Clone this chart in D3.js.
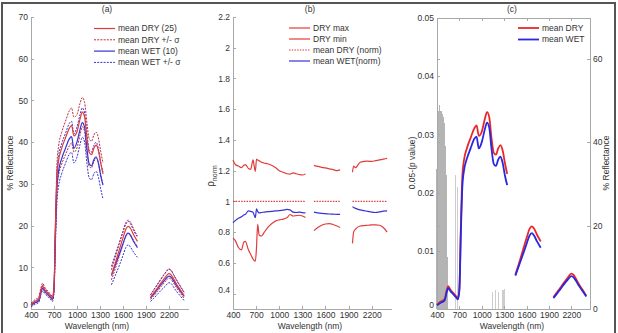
<!DOCTYPE html>
<html>
<head>
<meta charset="utf-8">
<script src="https://cdn.jsdelivr.net/npm/d3@7"></script>
<style>
    body { margin: 0; background: #fff; }
    svg { font-family: "Liberation Sans", Arial, sans-serif; }
    .axis path, .axis line { stroke: #a8a8a8; shape-rendering: crispEdges; }
    .axis text { fill: #333; font-size: 8.5px; }
    .lbl { fill: #333; font-size: 8.5px; }
</style>
</head>
<body>
<div id="chart"></div>
<script>

// wavelengths (nm) for the reflectance spectra, null = water band gap
let wl = [400, 450, 500, 530, 550, 580, 620, 660, 680, 700, 720, 740, 760, 800, 850, 900, 930, 960, 1000, 1040,
    1070, 1100, 1130, 1160, 1190, 1220, 1250, 1280, 1310, 1340, 1400,
    1450, 1500, 1550, 1600, 1640, 1670, 1700, 1740, 1790, 1870,
    1960, 2000, 2050, 2100, 2150, 2200, 2230, 2260, 2300, 2350, 2400];

let dryMean = [1.0, 1.8, 2.3, 4.5, 5.5, 4.6, 3.8, 3.0, 2.6, 5.0, 20.0, 32.0, 35.5, 38.5, 41.0, 43.3, 44.0, 41.5, 42.5, 45.5,
    47.2, 46.0, 41.0, 37.5, 37.0, 38.5, 39.3, 38.0, 35.0, 32.4, null,
    8.2, 11.0, 14.0, 17.0, 19.2, 19.8, 19.3, 17.8, 16.2, null,
    2.8, 3.8, 5.0, 6.3, 7.5, 8.5, 8.2, 7.3, 6.0, 4.6, 3.2];
let dryPlus = [1.4, 2.2, 2.8, 5.1, 6.2, 5.2, 4.3, 3.4, 3.0, 5.6, 22.0, 35.0, 39.0, 42.3, 45.0, 47.5, 48.2, 46.0, 46.6, 49.3,
    50.7, 49.5, 44.6, 40.8, 40.2, 41.7, 42.4, 41.0, 37.8, 35.0, null,
    9.4, 12.4, 15.5, 18.6, 20.8, 21.3, 20.8, 19.2, 17.5, null,
    3.3, 4.5, 5.8, 7.2, 8.5, 9.6, 9.3, 8.3, 6.9, 5.4, 3.9];
let dryMinus = [0.6, 1.4, 1.8, 3.9, 4.8, 4.0, 3.3, 2.6, 2.2, 4.4, 18.0, 29.0, 32.0, 34.7, 37.0, 39.1, 39.8, 37.6, 38.6, 41.7,
    43.7, 42.5, 37.4, 34.2, 33.8, 35.3, 36.2, 35.0, 32.2, 29.8, null,
    7.0, 9.6, 12.5, 15.4, 17.6, 18.3, 17.8, 16.4, 14.9, null,
    2.3, 3.1, 4.2, 5.4, 6.5, 7.4, 7.1, 6.3, 5.1, 3.8, 2.5];
let wetMean = [0.9, 1.5, 2.0, 4.0, 5.0, 4.3, 3.5, 2.7, 2.3, 4.5, 18.5, 29.5, 33.0, 36.0, 38.5, 40.8, 41.3, 38.5, 40.0, 43.0,
    44.7, 43.5, 38.5, 34.8, 34.3, 35.8, 36.5, 35.0, 32.0, 29.7, null,
    8.0, 10.5, 13.0, 15.6, 17.6, 18.2, 17.6, 16.2, 14.7, null,
    2.6, 3.5, 4.7, 5.9, 7.0, 7.9, 7.6, 6.8, 5.6, 4.3, 3.0];
let wetPlus = [1.3, 1.9, 2.5, 4.6, 5.7, 4.9, 4.0, 3.2, 2.8, 5.1, 21.0, 33.0, 36.6, 39.6, 42.1, 44.5, 45.0, 42.0, 43.6, 46.6,
    48.2, 47.0, 42.0, 38.2, 37.6, 39.2, 40.0, 38.4, 35.2, 32.8, null,
    10.2, 13.0, 15.7, 18.4, 20.4, 21.0, 20.4, 18.8, 17.2, null,
    3.4, 4.5, 5.9, 7.3, 8.6, 9.5, 9.2, 8.3, 7.0, 5.5, 4.0];
let wetMinus = [0.5, 1.1, 1.5, 3.4, 4.3, 3.7, 3.0, 2.2, 1.8, 3.9, 16.0, 26.0, 29.4, 32.4, 34.9, 37.1, 37.6, 35.0, 36.4, 39.4,
    41.2, 40.0, 35.0, 31.4, 31.0, 32.4, 33.0, 31.6, 28.8, 26.4, null,
    5.8, 8.0, 10.3, 12.8, 14.8, 15.4, 14.8, 13.6, 12.4, null,
    1.8, 2.5, 3.5, 4.5, 5.4, 6.3, 6.1, 5.3, 4.2, 3.1, 2.0];

// panel (b): normalised spectra
let bWl = [400, 430, 470, 510, 540, 560, 600, 630, 660, 675, 690, 705, 720, 740, 770, 800, 850, 900, 950, 1000,
    1050, 1100, 1140, 1180, 1220, 1260, 1300, 1340, 1400,
    1450, 1500, 1550, 1600, 1650, 1700, 1750, 1790, 1870,
    1950, 1965, 1990, 2050, 2100, 2150, 2200, 2250, 2300, 2350, 2400];
let dryMax = [1.27, 1.24, 1.23, 1.22, 1.235, 1.24, 1.215, 1.21, 1.27, 1.23, 1.195, 1.275, 1.27, 1.265, 1.255, 1.25, 1.245, 1.235, 1.22, 1.2,
    1.19, 1.18, 1.178, 1.186, 1.18, 1.175, 1.172, 1.178, null,
    1.235, 1.228, 1.222, 1.218, 1.212, 1.207, 1.2, 1.205, null,
    1.19, 1.23, 1.22, 1.255, 1.26, 1.262, 1.26, 1.265, 1.27, 1.275, 1.28];
let dryMin = [0.76, 0.745, 0.70, 0.685, 0.735, 0.74, 0.685, 0.655, 0.625, 0.615, 0.612, 0.70, 0.85, 0.78, 0.775, 0.795, 0.83, 0.855, 0.872, 0.88,
    0.885, 0.893, 0.915, 0.905, 0.908, 0.91, 0.905, 0.895, null,
    0.81, 0.83, 0.845, 0.853, 0.856, 0.85, 0.84, 0.83, null,
    0.727, 0.80, 0.82, 0.84, 0.843, 0.845, 0.848, 0.848, 0.845, 0.83, 0.80];
let dryNorm = [1, 1, 1, 1, 1, 1, 1, 1, 1, 1, 1, 1, 1, 1, 1, 1, 1, 1, 1, 1,
    1, 1, 1, 1, 1, 1, 1, 1, null,
    1, 1, 1, 1, 1, 1, 1, 1, null,
    1, 1, 1, 1, 1, 1, 1, 1, 1, 1, 1];
let wetNorm = [0.861, 0.875, 0.89, 0.90, 0.912, 0.916, 0.938, 0.935, 0.93, 0.91, 0.895, 0.952, 0.935, 0.925, 0.928, 0.93, 0.933, 0.935, 0.938, 0.94,
    0.943, 0.948, 0.945, 0.93, 0.928, 0.93, 0.927, 0.925, null,
    0.93, 0.925, 0.922, 0.92, 0.918, 0.917, 0.916, 0.916, null,
    0.966, 0.96, 0.955, 0.945, 0.94, 0.935, 0.93, 0.928, 0.932, 0.937, 0.938];

// panel (c): significance bars, 0.05 - p
let pWl = [400, 405, 410, 415, 420, 425, 430, 435, 440, 445, 450, 455, 460, 465, 470, 475, 480, 485, 490, 495,
    500, 505, 510, 515, 520, 525, 530, 535, 540, 545, 648, 675, 1148, 1188, 1225, 1284, 1303];
let pVal = [0.024, 0.027, 0.029, 0.031, 0.033, 0.034, 0.0335, 0.035, 0.034, 0.0335, 0.034, 0.033, 0.0335, 0.034, 0.033, 0.0335, 0.033, 0.032, 0.033, 0.032,
    0.031, 0.030, 0.028, 0.026, 0.023, 0.019, 0.014, 0.009, 0.005, 0.003, 0.023, 0.021, 0.003, 0.0033, 0.003, 0.0033, 0.0034];

let xTicks = [400, 700, 1000, 1300, 1600, 1900, 2200];
let reflTicks = [0, 10, 20, 30, 40, 50, 60, 70];
let normTicks = [0.4, 0.6, 0.8, 1, 1.2, 1.4, 1.6, 1.8, 2, 2.2];
let pTicks = [0, 0.01, 0.02, 0.03, 0.04, 0.05];
let reflTicksC = [0, 20, 40, 60];

let legendA = ["mean DRY (25)", "mean DRY +/- \u03c3", "mean WET (10)", "mean WET +/- \u03c3"];
let legendB = ["DRY max", "DRY min", "mean DRY (norm)", "mean WET(norm)"];
let legendC = ["mean DRY", "mean WET"];

const RED = "#e23b3b", BLUE = "#3434d6", DRED = "#c0283c";

let svg = d3.select("#chart").append("svg")
    .attr("width", 618)
    .attr("height", 333);

// figure frame
svg.append("rect")
    .attr("x", 2).attr("y", 3)
    .attr("width", 613).attr("height", 340)
    .style("fill", "none")
    .style("stroke", "#555")
    .style("stroke-width", 2);

function zip(xs, ys) {
    return xs.map((x, i) => [x, ys[i]]);
}

function drawLine(g, x, y, xs, ys, color, width, dash) {
    let line = d3.line()
        .defined(d => d[1] != null)
        .x(d => x(d[0]))
        .y(d => y(d[1]))
        .curve(d3.curveMonotoneX);
    g.append("path")
        .datum(zip(xs, ys))
        .attr("d", line)
        .style("fill", "none")
        .style("stroke", color)
        .style("stroke-width", width)
        .style("stroke-dasharray", dash || null);
}

function drawLegend(g, x0, y0, step, labels, styles) {
    labels.forEach((t, i) => {
        let yy = y0 + i * step;
        g.append("line")
            .attr("x1", x0).attr("x2", x0 + 21)
            .attr("y1", yy).attr("y2", yy)
            .style("stroke", styles[i].color)
            .style("stroke-width", styles[i].width)
            .style("stroke-dasharray", styles[i].dash || null);
        g.append("text")
            .attr("class", "lbl")
            .attr("x", x0 + 24)
            .attr("y", yy)
            .attr("dy", "0.35em")
            .text(t);
    });
}

// y axis on the left, ticks inside; the zero label is lifted a little off the x labels
function leftAxis(g, y, xPos, ticks, fmt) {
    let ax = g.append("g")
        .attr("class", "axis")
        .attr("transform", `translate(${xPos},0)`)
        .call(d3.axisLeft(y).tickValues(ticks).tickFormat(fmt)
            .tickSizeInner(-3).tickSizeOuter(0).tickPadding(3));
    ax.selectAll(".tick text")
        .filter(d => d === ticks[0])
        .attr("dy", "-0.15em");
    return ax;
}

function bottomAxis(g, x, yPos, cx) {
    g.append("g")
        .attr("class", "axis")
        .attr("transform", `translate(0,${yPos})`)
        .call(d3.axisBottom(x).tickValues(xTicks).tickFormat(d3.format("d"))
            .tickSizeInner(-3).tickSizeOuter(0).tickPadding(3));
    g.append("text")
        .attr("class", "lbl")
        .attr("x", cx).attr("y", 329)
        .style("text-anchor", "middle")
        .text("Wavelength (nm)");
}

function title(g, cx, t) {
    g.append("text")
        .attr("class", "lbl")
        .attr("x", cx).attr("y", 12)
        .style("text-anchor", "middle")
        .text(t);
}

// ---------- panel (a)
let xa = d3.scaleLinear().domain([400, 2450]).range([31, 188]);
let ya = d3.scaleLinear().domain([0, 70]).range([309, 17]);
let ga = svg.append("g");

leftAxis(ga, ya, 31, reflTicks, d3.format("d"));
bottomAxis(ga, xa, 309, 97);
title(ga, 107, "(a)");
ga.append("text")
    .attr("class", "lbl")
    .attr("transform", "translate(13,163) rotate(-90)")
    .style("text-anchor", "middle")
    .text("% Reflectance");

drawLine(ga, xa, ya, wl, wetMinus, BLUE, 1, "2,1.2");
drawLine(ga, xa, ya, wl, wetPlus, BLUE, 1, "2,1.2");
drawLine(ga, xa, ya, wl, dryMinus, DRED, 1, "2,1.2");
drawLine(ga, xa, ya, wl, dryPlus, DRED, 1, "2,1.2");
drawLine(ga, xa, ya, wl, wetMean, BLUE, 1.2);
drawLine(ga, xa, ya, wl, dryMean, RED, 1.2);

drawLegend(ga, 94, 28.5, 11.3, legendA, [
    {color: RED, width: 1.2},
    {color: DRED, width: 1, dash: "2,1.2"},
    {color: BLUE, width: 1.2},
    {color: BLUE, width: 1, dash: "2,1.2"}
]);

// ---------- panel (b)
let xb = d3.scaleLinear().domain([400, 2450]).range([233, 391]);
let yb = d3.scaleLinear().domain([0.3, 2.2]).range([309, 17]);
let gb = svg.append("g");

leftAxis(gb, yb, 233, normTicks, d3.format("~g"));
bottomAxis(gb, xb, 309, 310);
title(gb, 310, "(b)");
let rho = gb.append("text")
    .attr("class", "lbl")
    .attr("transform", "translate(214,176) rotate(-90)")
    .style("text-anchor", "middle");
rho.append("tspan").style("font-size", "10px").text("\u03c1");
rho.append("tspan").attr("dy", 2.5).style("font-size", "7px").text("norm");

drawLine(gb, xb, yb, bWl, dryMax, RED, 1.2);
drawLine(gb, xb, yb, bWl, dryMin, RED, 1.2);
drawLine(gb, xb, yb, bWl, dryNorm, RED, 1.1, "1.5,1.2");
drawLine(gb, xb, yb, bWl, wetNorm, BLUE, 1.2);

drawLegend(gb, 289, 28, 11, legendB, [
    {color: RED, width: 1.2},
    {color: RED, width: 1.2},
    {color: RED, width: 1.1, dash: "1.5,1.2"},
    {color: BLUE, width: 1.2}
]);

// ---------- panel (c)
let xc = d3.scaleLinear().domain([400, 2450]).range([437, 590]);
let ycl = d3.scaleLinear().domain([0, 0.05]).range([309, 18]);
let ycr = d3.scaleLinear().domain([0, 70]).range([309, 17]);
let gc = svg.append("g");

gc.selectAll(".pbar")
    .data(zip(pWl, pVal))
    .enter()
    .append("rect")
    .attr("class", "pbar")
    .attr("x", d => xc(d[0]) - 0.6)
    .attr("y", d => ycl(d[1]))
    .attr("width", 1.2)
    .attr("height", d => ycl(0) - ycl(d[1]))
    .attr("shape-rendering", "crispEdges")
    .style("fill", d => d[0] < 600 ? "#b4b4b4" : "#cdcdcd");

leftAxis(gc, ycl, 437, pTicks, d3.format("~g"));
gc.append("g")
    .attr("class", "axis")
    .attr("transform", "translate(437,0)")
    .call(d3.axisLeft(ycr).tickValues(reflTicksC).tickFormat("").tickSizeInner(-3).tickSizeOuter(0));
gc.append("g")
    .attr("class", "axis")
    .attr("transform", "translate(590,0)")
    .call(d3.axisRight(ycr).tickValues(reflTicksC).tickSizeInner(-3).tickSizeOuter(0).tickPadding(3));
gc.append("g")
    .attr("class", "axis")
    .attr("transform", "translate(0,18)")
    .call(d3.axisTop(xc).tickValues(xTicks).tickFormat("").tickSizeInner(-3).tickSizeOuter(0));
bottomAxis(gc, xc, 309, 512);
title(gc, 512, "(c)");
gc.append("text")
    .attr("class", "lbl")
    .attr("transform", "translate(415,163) rotate(-90)")
    .style("text-anchor", "middle")
    .text("0.05-(p value)");
gc.append("text")
    .attr("class", "lbl")
    .attr("transform", "translate(609,163) rotate(-90)")
    .style("text-anchor", "middle")
    .text("% Reflectance");

drawLine(gc, xc, ycr, wl, dryMean, "#e82828", 1.8);
drawLine(gc, xc, ycr, wl, wetMean, "#2828e0", 1.8);

drawLegend(gc, 518, 28, 11.5, legendC, [
    {color: "#e82828", width: 1.8},
    {color: "#2828e0", width: 1.8}
]);

</script>
</body>
</html>
